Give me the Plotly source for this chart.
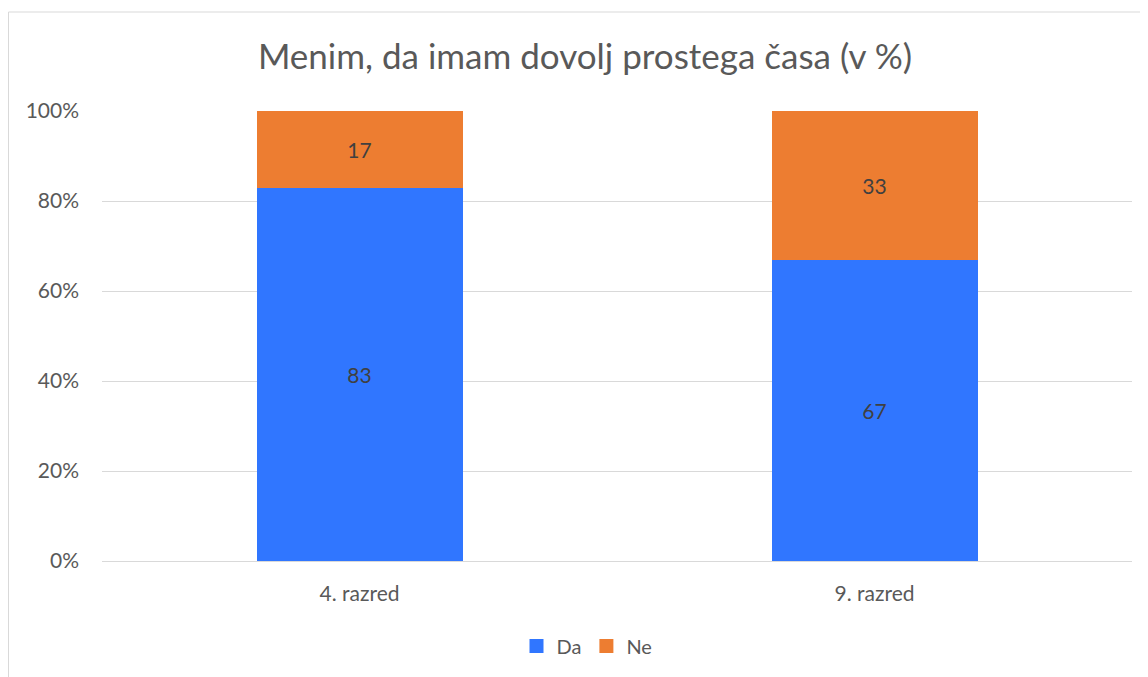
import plotly.graph_objects as go

categories = ["4. razred", "9. razred"]
da_values = [83, 67]
ne_values = [17, 33]
series_names = ["Da", "Ne"]
series_colors = ["#3076FF", "#ED7D31"]
tick_values = [0, 20, 40, 60, 80, 100]
tick_labels = ["0%", "20%", "40%", "60%", "80%", "100%"]

FONT = "Lato, 'Open Sans', sans-serif"
# page body adds an 8px offset, so the figure is drawn 8px smaller / shifted
W, H = 1140, 669
L, R, T, B = 94, 16, 103, 116
pw, ph = W - L - R, H - T - B

fig = go.Figure()
for name, vals, col in zip(series_names, [da_values, ne_values], series_colors):
    fig.add_trace(go.Bar(name=name, x=categories, y=vals,
                         marker=dict(color=col, line=dict(width=0)),
                         text=[str(v) for v in vals], textposition="inside",
                         insidetextanchor="middle", showlegend=False,
                         textfont=dict(size=21, color="#404040", family=FONT)))
for name, col in zip(series_names, series_colors):
    fig.add_trace(go.Scatter(name=name, x=[None], y=[None], mode="markers",
                             marker=dict(symbol="square", size=14, color=col),
                             showlegend=True))

fig.update_layout(
    width=W, height=H,
    barmode="stack", bargap=0.6,
    margin=dict(l=L, r=R, t=T, b=B),
    paper_bgcolor="white", plot_bgcolor="white",
    font=dict(family=FONT, color="#595959"),
    title=dict(text="Menim, da imam dovolj prostega časa (v %)",
               x=577 / W, xanchor="center", xref="container",
               y=1 - 49 / H, yanchor="middle", yref="container",
               font=dict(size=35, color="#595959", family=FONT)),
    legend=dict(orientation="h", xref="container", yref="container",
                x=579 / W, xanchor="center", y=1 - 638 / H, yanchor="middle",
                font=dict(size=20, color="#595959", family=FONT),
                itemwidth=30, traceorder="normal"),
    uniformtext=dict(mode=False),
    showlegend=True,
)
fig.update_yaxes(range=[0, 100], tickvals=tick_values, ticktext=tick_labels,
                 showgrid=True, gridcolor="#D9D9D9", gridwidth=1,
                 zeroline=False, showline=False,
                 tickfont=dict(size=21, color="#595959", family=FONT),
                 ticks="", ticklabelstandoff=22)
fig.update_xaxes(showline=True, linecolor="#D9D9D9", linewidth=1,
                 tickfont=dict(size=21, color="#595959", family=FONT),
                 ticks="", ticklabelstandoff=14)

# chart border
fig.add_shape(type="rect", xref="paper", yref="paper",
              x0=(0.5 - L) / pw, x1=(1150 - L) / pw,
              y0=-(H + 4 - (T + ph)) / ph, y1=1 + (T - 4) / ph,
              line=dict(color="#D9D9D9", width=1), fillcolor="rgba(0,0,0,0)",
              layer="below")

fig.write_html("out.html")
